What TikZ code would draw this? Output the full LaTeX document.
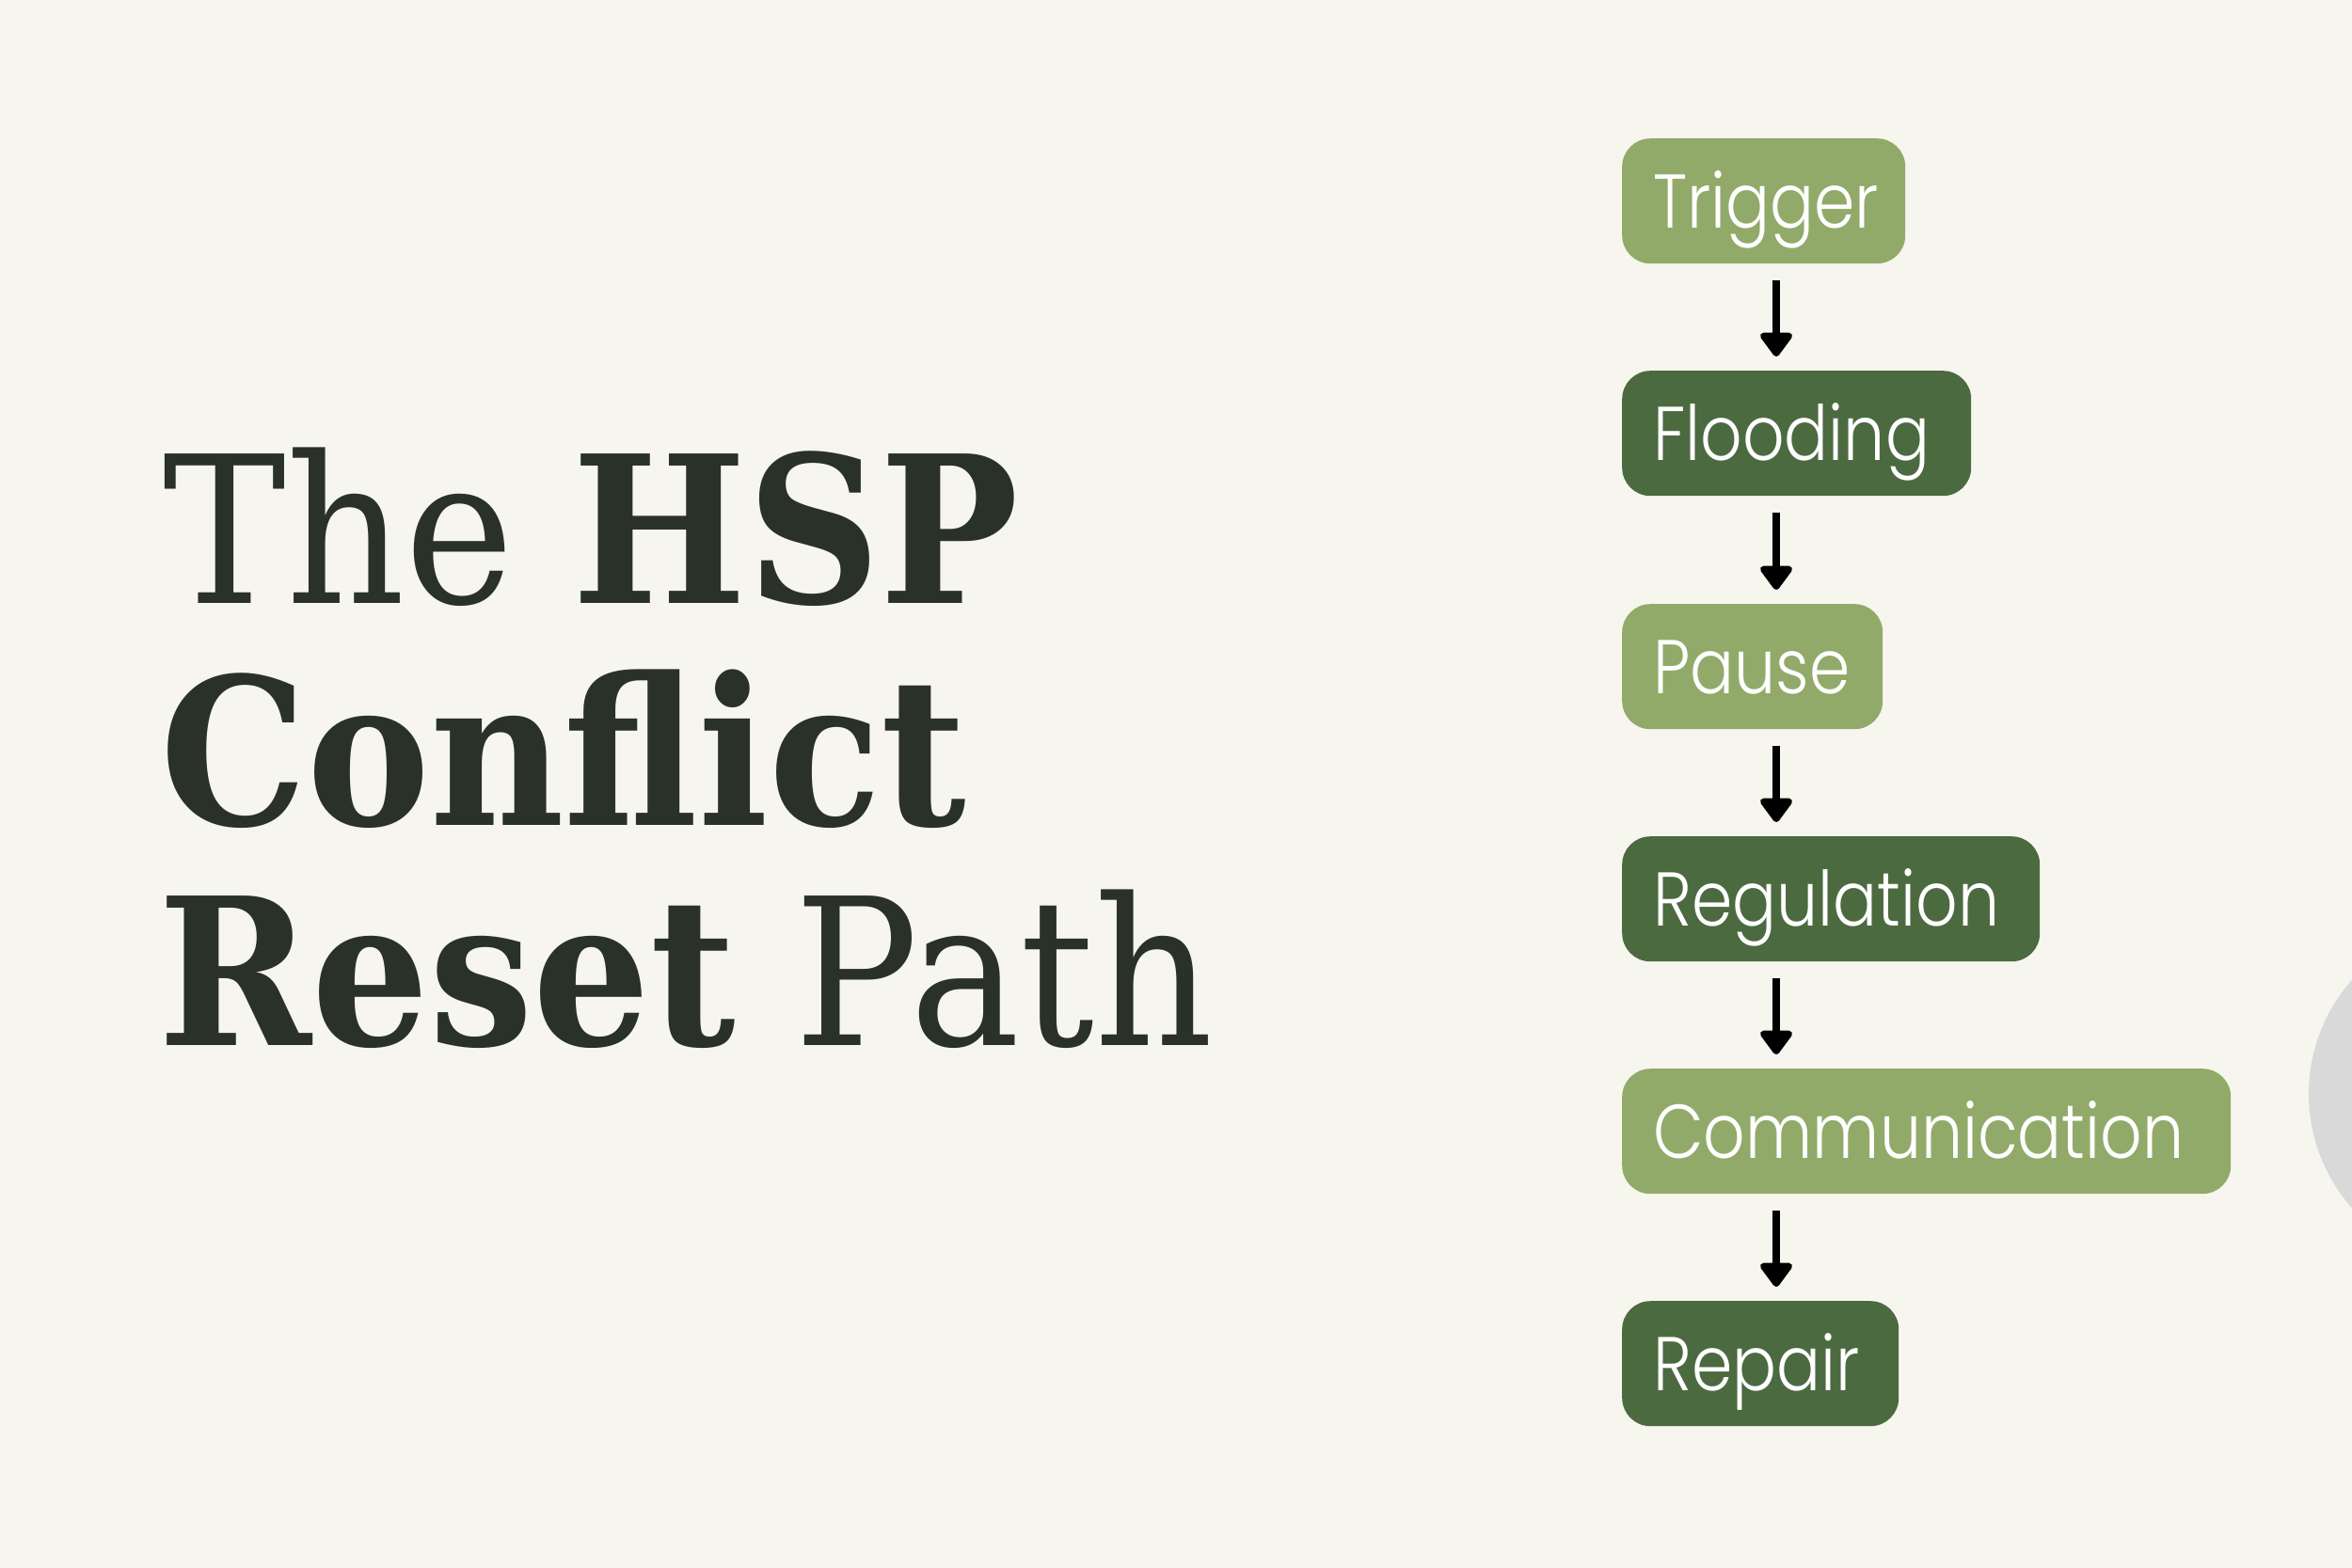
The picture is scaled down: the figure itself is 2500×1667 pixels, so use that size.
\documentclass[tikz,border=0pt]{standalone}
\usepackage{fontspec}
\usetikzlibrary{arrows.meta}
\setmainfont{DejaVu Serif}[FakeStretch=0.9]
\IfFontExistsTF{Poppins Light}{\newfontfamily\boxfont{Poppins Light}[FakeStretch=0.86]}{\newfontfamily\boxfont{Poppins}[FakeStretch=0.86]}
\definecolor{bg}{HTML}{F6F6EE}
\definecolor{lightg}{HTML}{92AA69}
\definecolor{darkg}{HTML}{4C6A40}
\definecolor{titlec}{HTML}{2A3127}
\definecolor{circ}{HTML}{D9D9D9}
\tikzset{
  stepbox/.style={anchor=north west, rounded corners=30pt, minimum height=133pt,
    inner xsep=33pt, inner ysep=0pt, align=left, text=white,
    font=\boxfont\fontsize{81}{81}\selectfont, text height=57pt, text depth=0pt},
  lightbox/.style={stepbox, fill=lightg},
  darkbox/.style={stepbox, fill=darkg},
  arr/.style={line width=8.5pt, black, -{Triangle[width=39pt,length=28pt,round]},
    shorten <=18pt, shorten >=15pt},
  titleline/.style={anchor=base west, inner sep=0pt, text=titlec,
    font=\fontsize{218}{218}\selectfont}
}
\begin{document}
\begin{tikzpicture}[x=1pt,y=-1pt]
\useasboundingbox (0,0) rectangle (2500,1667);
\clip (0,0) rectangle (2500,1667);
\fill[bg] (0,0) rectangle (2500,1667);
\fill[circ] (2637,1163) circle (183pt);
% title
\node[titleline] (l1) at (173,641) {The \textbf{HSP}};
\node[titleline] (l2) at (170,877) {\textbf{Conflict}};
\node[titleline] (l3) at (168,1111) {\textbf{Reset} Path};
% boxes
\node[lightbox, text width=301pt-66pt] (trigger) at (1724,147) {Trigger};
\node[darkbox, text width=371pt-66pt] (flooding) at (1724,394) {Flooding};
\node[lightbox, text width=277pt-66pt] (pause) at (1724,642) {Pause};
\node[darkbox, text width=444pt-66pt] (regulation) at (1724,889) {Regulation};
\node[lightbox, text width=647pt-66pt] (communication) at (1724,1136) {Communication};
\node[darkbox, text width=294pt-66pt] (repair) at (1724,1383) {Repair};
% arrows
\coordinate (ax) at (1888,0);
\draw[arr] (trigger.south -| ax) -- (flooding.north -| ax);
\draw[arr] (flooding.south -| ax) -- (pause.north -| ax);
\draw[arr] (pause.south -| ax) -- (regulation.north -| ax);
\draw[arr] (regulation.south -| ax) -- (communication.north -| ax);
\draw[arr] (communication.south -| ax) -- (repair.north -| ax);
\end{tikzpicture}
\end{document}
